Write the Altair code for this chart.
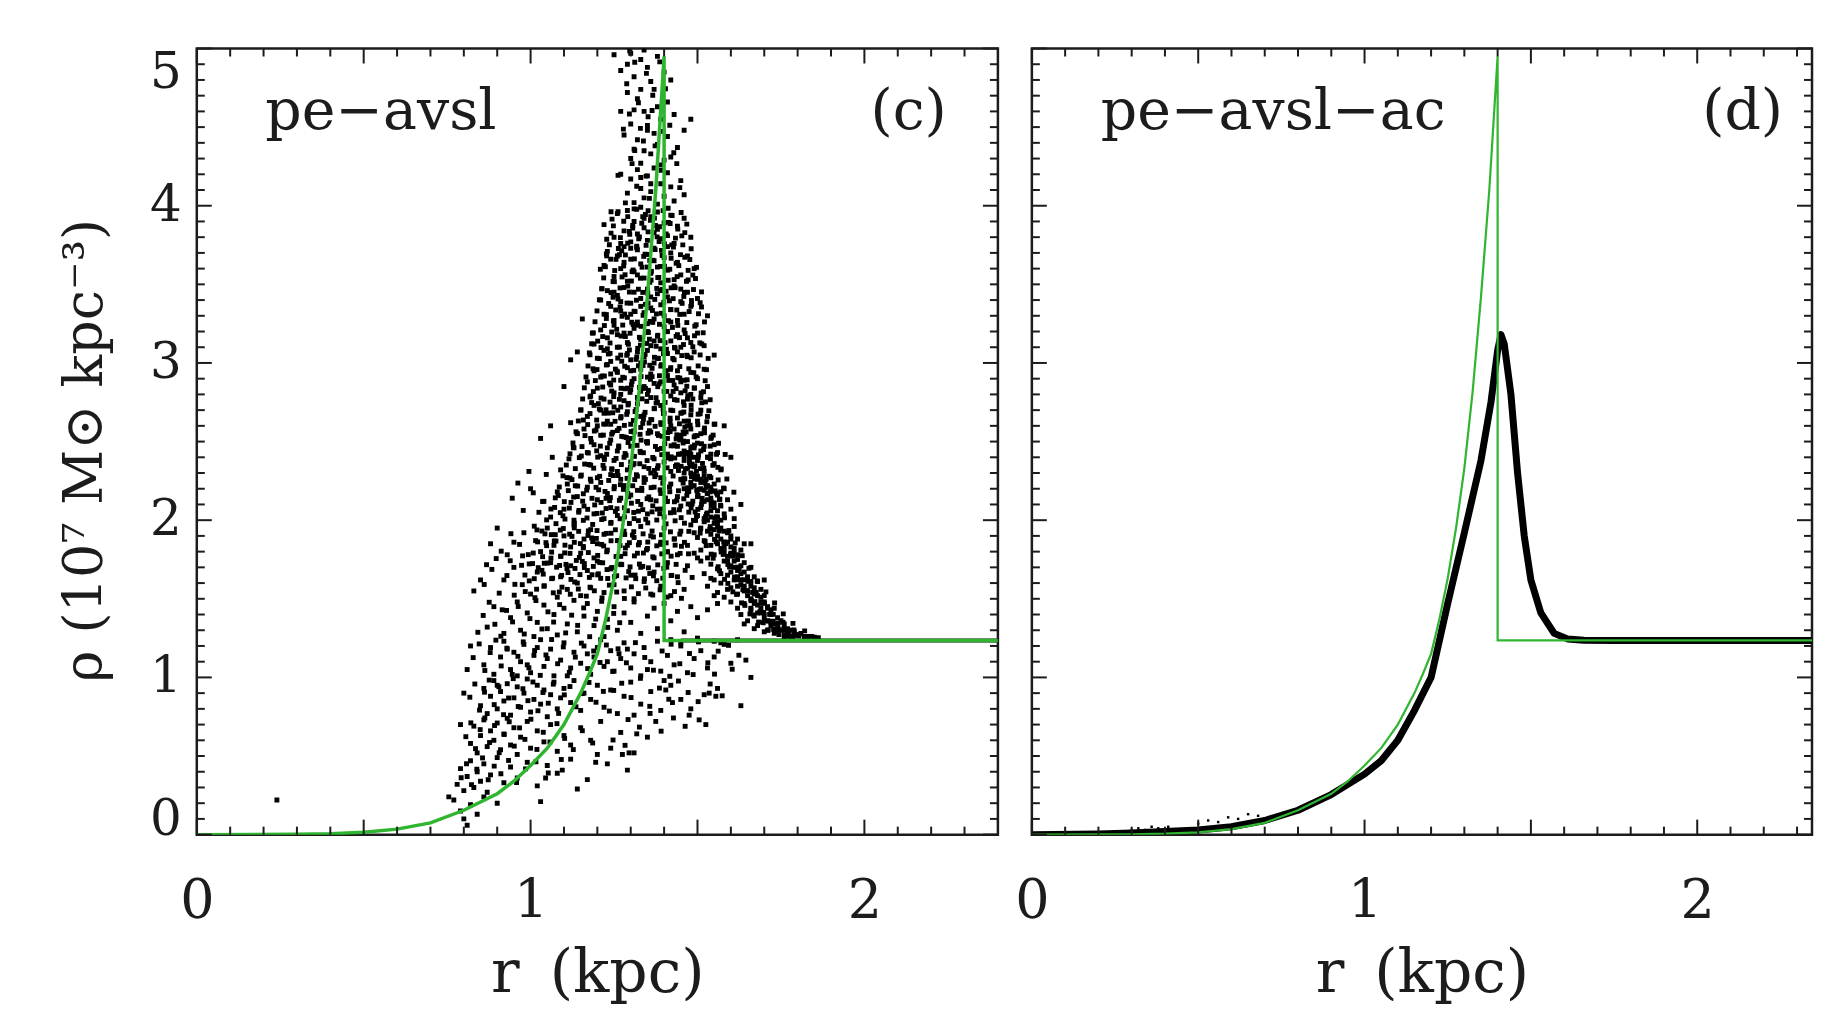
import altair as alt
import pandas as pd

FONT = "DejaVu Serif"
INK = "#1c1c1c"
GREEN = "#2fb52f"

# ---------------- axes ----------------
X_MAJOR = [0.0, 0.5, 1.0, 1.5, 2.0]
X_MINOR = [0.1, 0.2, 0.3, 0.4, 0.6, 0.7, 0.8, 0.9, 1.1, 1.2, 1.3, 1.4,
           1.6, 1.7, 1.8, 1.9, 2.1, 2.2, 2.3]
X_LABELS = [0, 1, 2]
Y_MAJOR = [0, 1, 2, 3, 4, 5]
Y_MINOR = [round(i * 0.1, 1) for i in range(1, 50) if i % 10 != 0]
Y_LABELS_MID = [1, 2, 3, 4]
Y_LABEL_BOTTOM = [0]
Y_LABEL_TOP = [5]

# ---------------- green model profile (both panels) ----------------
green_r = [0.0, 0.30, 0.40, 0.50, 0.60, 0.70, 0.80, 0.90, 0.95, 1.00, 1.05, 1.10,
           1.15, 1.175, 1.20, 1.225, 1.25, 1.275, 1.30, 1.325, 1.35, 1.375, 1.40,
           1.40, 2.40]
green_rho = [0.0, 0.002, 0.006, 0.015, 0.035, 0.075, 0.155, 0.26, 0.34, 0.44, 0.55, 0.70,
             0.90, 1.02, 1.15, 1.37, 1.63, 1.95, 2.33, 2.82, 3.42, 4.10, 4.95,
             1.235, 1.235]

# ---------------- panel (d): pe-avsl-ac profile ----------------
ac_r = [0.0, 0.20, 0.30, 0.40, 0.50, 0.60, 0.70, 0.80, 0.90, 1.00, 1.05, 1.10, 1.15,
        1.20, 1.25, 1.30, 1.35, 1.38, 1.40, 1.41, 1.42, 1.44, 1.46, 1.48, 1.50, 1.53,
        1.57, 1.61, 1.66, 1.75, 2.40]
ac_rho = [0.0, 0.004, 0.01, 0.02, 0.03, 0.05, 0.09, 0.155, 0.255, 0.385, 0.47, 0.60, 0.79,
          1.00, 1.47, 1.92, 2.38, 2.75, 3.08, 3.18, 3.12, 2.80, 2.30, 1.90, 1.62, 1.41,
          1.28, 1.245, 1.237, 1.235, 1.235]
ac_dots = [(0.30, 0.03), (0.32, 0.04), (0.34, 0.03), (0.36, 0.05), (0.38, 0.04),
           (0.41, 0.05), (0.50, 0.07), (0.53, 0.09), (0.56, 0.08), (0.59, 0.11),
           (0.62, 0.10), (0.65, 0.13), (0.68, 0.12)]

# ---------------- panel (c): pe-avsl particle cloud ----------------
cloud_top = [
    (1.30, 4.97), (1.33, 4.93), (1.35, 4.88), (1.38, 4.95), (1.31, 4.82), (1.36, 4.79),
    (1.40, 4.85), (1.42, 4.80), (1.34, 4.99), (1.29, 4.90), (1.25, 4.96), (1.27, 4.86),
    (1.29, 4.72), (1.32, 4.68), (1.34, 4.60), (1.37, 4.74), (1.39, 4.55), (1.41, 4.66),
    (1.43, 4.58), (1.30, 4.52), (1.35, 4.51), (1.33, 4.74), (1.38, 4.63), (1.31, 4.61),
    (1.48, 4.55), (1.27, 4.60),
    (1.28, 4.45), (1.30, 4.30), (1.32, 4.42), (1.33, 4.27), (1.35, 4.48), (1.36, 4.33),
    (1.38, 4.39), (1.39, 4.26), (1.41, 4.44), (1.42, 4.31), (1.44, 4.37), (1.46, 4.48),
    (1.31, 4.36), (1.34, 4.35), (1.37, 4.46), (1.40, 4.29),
    (1.27, 4.20), (1.29, 4.08), (1.30, 4.17), (1.31, 4.02), (1.32, 4.23), (1.33, 4.11),
    (1.34, 4.05), (1.35, 4.19), (1.36, 4.09), (1.37, 4.24), (1.38, 4.01), (1.39, 4.14),
    (1.40, 4.06), (1.41, 4.21), (1.42, 4.12), (1.43, 4.03), (1.45, 4.16), (1.46, 4.07),
    (1.33, 4.18), (1.36, 4.14),
    (1.22, 3.88), (1.25, 3.80), (1.26, 3.95), (1.28, 3.84), (1.29, 3.97), (1.30, 3.77),
    (1.31, 3.90), (1.32, 3.82), (1.33, 3.99), (1.34, 3.86), (1.35, 3.78), (1.36, 3.93),
    (1.37, 3.83), (1.38, 3.96), (1.39, 3.79), (1.40, 3.89), (1.41, 3.81), (1.42, 3.94),
    (1.43, 3.76), (1.44, 3.87), (1.46, 3.92), (1.48, 3.80), (1.27, 3.76), (1.34, 3.92),
    (1.38, 3.85), (1.31, 3.98),
    (1.22, 3.62), (1.23, 3.71), (1.25, 3.55), (1.26, 3.68), (1.27, 3.60), (1.28, 3.74),
    (1.29, 3.52), (1.30, 3.66), (1.31, 3.58), (1.32, 3.72), (1.33, 3.63), (1.34, 3.54),
    (1.35, 3.69), (1.36, 3.57), (1.37, 3.73), (1.38, 3.61), (1.39, 3.51), (1.40, 3.67),
    (1.41, 3.59), (1.42, 3.70), (1.43, 3.53), (1.44, 3.64), (1.45, 3.56), (1.47, 3.68),
    (1.49, 3.60), (1.28, 3.64), (1.32, 3.56), (1.35, 3.61), (1.37, 3.65), (1.30, 3.73),
    (1.41, 3.74), (1.24, 3.66),
    (1.312, 4.913), (1.347, 4.842), (1.288, 4.776), (1.366, 4.703), (1.404, 4.744),
    (1.323, 4.655), (1.296, 4.583), (1.352, 4.566), (1.417, 4.512), (1.278, 4.487),
    (1.338, 4.412), (1.373, 4.381), (1.429, 4.337), (1.304, 4.268), (1.391, 4.226),
    (1.262, 4.193), (1.447, 4.115), (1.318, 4.124), (1.356, 4.047), (1.284, 4.018),
    (1.412, 3.984), (1.241, 3.962), (1.336, 3.931), (1.374, 3.874), (1.296, 3.836),
    (1.453, 3.808), (1.228, 3.787), (1.318, 3.742), (1.392, 3.716), (1.266, 3.688),
    (1.357, 3.652), (1.436, 3.634), (1.209, 3.596), (1.304, 3.581), (1.381, 3.543),
    (1.472, 3.528), (1.251, 3.517), (1.343, 3.692), (1.418, 3.887), (1.329, 4.492),
    (1.387, 4.915), (1.297, 4.985), (1.364, 4.606), (1.244, 3.915), (1.462, 3.672),
    (1.283, 3.561), (1.326, 3.802), (1.401, 3.615), (1.352, 3.968), (1.312, 4.351),
    (1.438, 4.268), (1.273, 3.713), (1.385, 3.772), (1.227, 3.694), (1.486, 3.559),
    (1.346, 4.188), (1.397, 4.473), (1.306, 3.874), (1.361, 3.527), (1.423, 3.751),
]

cloud_mid = [
    (1.21, 3.40), (1.22, 3.31), (1.23, 3.46), (1.24, 3.36), (1.25, 3.27), (1.26, 3.43),
    (1.27, 3.33), (1.28, 3.48), (1.29, 3.29), (1.30, 3.38), (1.31, 3.45), (1.32, 3.26),
    (1.33, 3.41), (1.34, 3.32), (1.35, 3.47), (1.36, 3.35), (1.37, 3.28), (1.38, 3.44),
    (1.39, 3.37), (1.40, 3.30), (1.41, 3.42), (1.42, 3.34), (1.43, 3.49), (1.44, 3.27),
    (1.45, 3.39), (1.46, 3.31), (1.47, 3.45), (1.48, 3.36), (1.50, 3.41), (1.27, 3.39),
    (1.30, 3.31), (1.33, 3.36), (1.36, 3.42), (1.39, 3.46), (1.42, 3.26), (1.45, 3.47),
    (1.25, 3.45), (1.35, 3.25), (1.155, 3.28), (1.185, 3.19), (1.53, 3.30),
    (1.19, 3.12), (1.20, 3.03), (1.21, 3.21), (1.22, 3.08), (1.23, 3.16), (1.24, 3.01),
    (1.25, 3.24), (1.26, 3.10), (1.27, 3.05), (1.28, 3.19), (1.29, 3.13), (1.30, 3.02),
    (1.31, 3.22), (1.32, 3.07), (1.33, 3.15), (1.34, 3.04), (1.35, 3.20), (1.36, 3.11),
    (1.37, 3.00), (1.38, 3.17), (1.39, 3.09), (1.40, 3.23), (1.41, 3.06), (1.42, 3.14),
    (1.43, 3.02), (1.44, 3.18), (1.45, 3.10), (1.46, 3.21), (1.47, 3.04), (1.48, 3.13),
    (1.49, 3.07), (1.50, 3.19), (1.52, 3.11), (1.26, 3.18), (1.29, 3.06), (1.32, 3.24),
    (1.35, 3.08), (1.38, 3.03), (1.41, 3.20), (1.44, 3.07), (1.47, 3.16), (1.23, 3.09),
    (1.33, 3.00), (1.37, 3.14), (1.12, 3.02), (1.14, 3.07), (1.55, 3.05),
    (1.17, 2.88), (1.18, 2.79), (1.19, 2.95), (1.20, 2.84), (1.21, 2.91), (1.22, 2.77),
    (1.23, 2.99), (1.24, 2.86), (1.25, 2.81), (1.26, 2.94), (1.27, 2.89), (1.28, 2.76),
    (1.29, 2.97), (1.30, 2.83), (1.31, 2.90), (1.32, 2.78), (1.33, 2.96), (1.34, 2.85),
    (1.35, 2.80), (1.36, 2.93), (1.37, 2.87), (1.38, 2.75), (1.39, 2.98), (1.40, 2.82),
    (1.41, 2.92), (1.42, 2.79), (1.43, 2.86), (1.44, 2.95), (1.45, 2.81), (1.46, 2.89),
    (1.47, 2.77), (1.48, 2.94), (1.49, 2.84), (1.50, 2.90), (1.51, 2.78), (1.52, 2.96),
    (1.53, 2.85), (1.24, 2.93), (1.27, 2.80), (1.30, 2.95), (1.33, 2.82), (1.36, 2.78),
    (1.39, 2.88), (1.42, 2.97), (1.45, 2.88), (1.48, 2.80), (1.35, 2.91), (1.29, 2.84),
    (1.10, 2.85),
    (1.12, 2.62), (1.14, 2.55), (1.15, 2.70), (1.16, 2.58), (1.17, 2.66), (1.18, 2.52),
    (1.19, 2.73), (1.20, 2.60), (1.21, 2.54), (1.22, 2.68), (1.23, 2.63), (1.24, 2.51),
    (1.25, 2.72), (1.26, 2.57), (1.27, 2.65), (1.28, 2.53), (1.29, 2.69), (1.30, 2.61),
    (1.31, 2.56), (1.32, 2.74), (1.33, 2.59), (1.34, 2.67), (1.35, 2.50), (1.36, 2.64),
    (1.37, 2.71), (1.38, 2.55), (1.39, 2.62), (1.40, 2.68), (1.41, 2.52), (1.42, 2.70),
    (1.43, 2.58), (1.44, 2.65), (1.45, 2.54), (1.46, 2.73), (1.47, 2.60), (1.48, 2.67),
    (1.49, 2.53), (1.50, 2.63), (1.51, 2.70), (1.52, 2.57), (1.53, 2.66), (1.54, 2.52),
    (1.55, 2.61), (1.27, 2.72), (1.30, 2.52), (1.33, 2.66), (1.36, 2.56), (1.39, 2.73),
    (1.42, 2.60), (1.45, 2.68), (1.48, 2.58), (1.51, 2.55), (1.24, 2.61), (1.21, 2.70),
    (1.46, 2.63), (1.44, 2.47), (1.46, 2.44), (1.47, 2.50), (1.48, 2.42), (1.45, 2.52),
    (1.49, 2.46), (1.50, 2.49), (1.46, 2.55), (1.55, 2.48), (1.03, 2.52), (1.06, 2.60),
    (1.58, 2.60),
    (0.995, 2.31), (1.065, 2.40), (1.115, 2.39), (1.09, 2.32), (1.13, 2.46), (1.15, 2.28),
    (1.17, 2.43), (1.18, 2.35), (1.19, 2.48), (1.20, 2.27), (1.21, 2.41), (1.22, 2.33),
    (1.23, 2.46), (1.24, 2.29), (1.25, 2.38), (1.26, 2.44), (1.27, 2.26), (1.28, 2.40),
    (1.29, 2.32), (1.30, 2.47), (1.31, 2.36), (1.32, 2.28), (1.33, 2.43), (1.34, 2.34),
    (1.35, 2.49), (1.36, 2.30), (1.37, 2.39), (1.38, 2.45), (1.39, 2.27), (1.40, 2.37),
    (1.41, 2.42), (1.42, 2.31), (1.43, 2.48), (1.44, 2.35), (1.45, 2.26), (1.46, 2.41),
    (1.47, 2.33), (1.48, 2.46), (1.49, 2.29), (1.50, 2.38), (1.51, 2.44), (1.52, 2.31),
    (1.53, 2.40), (1.54, 2.27), (1.55, 2.36), (1.56, 2.43), (1.57, 2.32), (1.22, 2.40),
    (1.26, 2.31), (1.30, 2.37), (1.34, 2.27), (1.38, 2.33), (1.42, 2.39), (1.46, 2.30),
    (1.50, 2.28), (1.52, 2.47), (1.54, 2.42), (1.49, 2.40), (1.47, 2.43), (1.60, 2.40),
    (0.945, 2.14), (1.025, 2.05), (1.00, 2.20), (1.04, 2.12), (1.06, 2.02), (1.08, 2.18),
    (1.10, 2.07), (1.11, 2.23), (1.13, 2.00), (1.14, 2.15), (1.16, 2.09), (1.17, 2.21),
    (1.19, 2.04), (1.20, 2.13), (1.21, 2.24), (1.22, 2.01), (1.23, 2.17), (1.24, 2.08),
    (1.25, 2.20), (1.26, 2.03), (1.27, 2.14), (1.28, 2.22), (1.29, 2.06), (1.30, 2.16),
    (1.31, 2.01), (1.32, 2.19), (1.33, 2.10), (1.34, 2.24), (1.35, 2.04), (1.36, 2.13),
    (1.37, 2.21), (1.38, 2.07), (1.39, 2.17), (1.40, 2.02), (1.41, 2.12), (1.42, 2.23),
    (1.43, 2.05), (1.44, 2.15), (1.45, 2.09), (1.46, 2.20), (1.47, 2.18), (1.48, 2.10),
    (1.49, 2.22), (1.50, 2.03), (1.50, 2.15), (1.51, 2.08), (1.52, 2.19), (1.52, 2.01),
    (1.53, 2.13), (1.54, 2.06), (1.54, 2.21), (1.55, 2.11), (1.56, 2.02), (1.56, 2.16),
    (1.57, 2.09), (1.58, 2.20), (1.58, 2.04), (1.59, 2.13), (1.60, 2.07), (1.61, 2.01),
    (1.48, 2.24), (1.51, 2.24), (1.53, 2.00), (1.55, 2.23), (1.57, 2.18), (1.63, 2.10),
]

core_extra = [
    (1.214, 3.472), (1.247, 3.418), (1.268, 3.356), (1.291, 3.489), (1.313, 3.327),
    (1.336, 3.449), (1.352, 3.381), (1.377, 3.312), (1.394, 3.468), (1.416, 3.395),
    (1.438, 3.337), (1.459, 3.423), (1.482, 3.371), (1.227, 3.283), (1.258, 3.214),
    (1.284, 3.168), (1.307, 3.245), (1.329, 3.113), (1.348, 3.196), (1.366, 3.258),
    (1.388, 3.142), (1.407, 3.087), (1.425, 3.226), (1.446, 3.161), (1.468, 3.049),
    (1.492, 3.234), (1.201, 3.139), (1.238, 3.061), (1.273, 3.011), (1.296, 3.083),
    (1.318, 3.038), (1.341, 3.007), (1.383, 3.029), (1.433, 3.094), (1.507, 3.128),
    (1.512, 3.356), (1.176, 3.064), (1.356, 3.151), (1.274, 3.297), (1.421, 3.478),
    (1.187, 2.963), (1.214, 2.917), (1.236, 2.872), (1.259, 2.948), (1.281, 2.905),
    (1.302, 2.861), (1.323, 2.982), (1.344, 2.838), (1.364, 2.913), (1.385, 2.867),
    (1.406, 2.951), (1.427, 2.819), (1.447, 2.904), (1.468, 2.852), (1.489, 2.938),
    (1.511, 2.809), (1.178, 2.784), (1.203, 2.741), (1.226, 2.702), (1.249, 2.786),
    (1.271, 2.659), (1.292, 2.733), (1.313, 2.691), (1.334, 2.772), (1.355, 2.618),
    (1.376, 2.745), (1.397, 2.706), (1.418, 2.649), (1.439, 2.763), (1.459, 2.688),
    (1.481, 2.731), (1.502, 2.674), (1.524, 2.752), (1.158, 2.637), (1.196, 2.573),
    (1.219, 2.611), (1.243, 2.547), (1.265, 2.584), (1.287, 2.526), (1.309, 2.568),
    (1.331, 2.509), (1.352, 2.553), (1.373, 2.597), (1.394, 2.534), (1.415, 2.578),
    (1.436, 2.517), (1.457, 2.561), (1.478, 2.604), (1.499, 2.538), (1.521, 2.586),
    (1.542, 2.529), (1.139, 2.552), (1.283, 2.836), (1.357, 2.985), (1.426, 2.889),
    (1.246, 2.683), (1.471, 2.792), (1.338, 2.642),
    (1.128, 2.463), (1.152, 2.408), (1.175, 2.354), (1.198, 2.441), (1.221, 2.386),
    (1.243, 2.327), (1.264, 2.472), (1.286, 2.413), (1.307, 2.352), (1.328, 2.438),
    (1.349, 2.379), (1.371, 2.316), (1.392, 2.456), (1.413, 2.397), (1.434, 2.342),
    (1.455, 2.424), (1.476, 2.367), (1.497, 2.311), (1.518, 2.449), (1.539, 2.391),
    (1.561, 2.336), (1.583, 2.418), (1.109, 2.271), (1.134, 2.219), (1.158, 2.168),
    (1.181, 2.247), (1.204, 2.193), (1.226, 2.139), (1.248, 2.284), (1.269, 2.226),
    (1.291, 2.171), (1.312, 2.258), (1.333, 2.203), (1.354, 2.148), (1.375, 2.289),
    (1.396, 2.235), (1.417, 2.181), (1.438, 2.126), (1.459, 2.264), (1.481, 2.211),
    (1.502, 2.157), (1.523, 2.238), (1.544, 2.185), (1.566, 2.131), (1.588, 2.262),
    (1.609, 2.178), (1.072, 2.081), (1.097, 2.028), (1.121, 2.113), (1.145, 2.062),
    (1.169, 2.014), (1.192, 2.097), (1.215, 2.046), (1.237, 2.124), (1.259, 2.073),
    (1.281, 2.021), (1.302, 2.108), (1.323, 2.057), (1.345, 2.006), (1.366, 2.091),
    (1.387, 2.041), (1.408, 2.118), (1.429, 2.067), (1.451, 2.016), (1.472, 2.103),
    (1.493, 2.052),
    (1.011, 1.962), (1.043, 1.913), (1.071, 1.868), (1.098, 1.947), (1.124, 1.897),
    (1.149, 1.851), (1.173, 1.932), (1.197, 1.884), (1.219, 1.836), (1.241, 1.917),
    (1.263, 1.871), (1.284, 1.823), (1.305, 1.905), (1.326, 1.858), (1.347, 1.811),
    (1.368, 1.893), (1.389, 1.846), (1.409, 1.798), (1.431, 1.881), (1.452, 1.834),
    (1.473, 1.786), (0.976, 1.773), (1.006, 1.724), (1.034, 1.681), (1.061, 1.759),
    (1.087, 1.712), (1.112, 1.667), (1.137, 1.744), (1.161, 1.699), (1.184, 1.653),
    (1.207, 1.731), (1.229, 1.686), (1.251, 1.641), (1.273, 1.718), (1.294, 1.673),
    (1.315, 1.628), (1.336, 1.706), (1.357, 1.661), (1.378, 1.615), (1.399, 1.693),
    (1.421, 1.648), (1.442, 1.603), (1.463, 1.681), (1.484, 1.636), (0.953, 1.592),
    (0.984, 1.546), (1.013, 1.507), (1.041, 1.583), (1.068, 1.538), (1.094, 1.574),
    (1.119, 1.529), (1.143, 1.562), (1.167, 1.517), (1.191, 1.551), (1.214, 1.506),
    (1.236, 1.587), (1.258, 1.543), (1.281, 1.502), (1.302, 1.576), (1.323, 1.533),
    (1.345, 1.569), (1.366, 1.524), (1.388, 1.557), (1.409, 1.511), (1.431, 1.546),
    (1.452, 1.503),
]

core_dense = [
    (1.262, 3.962), (1.291, 3.931), (1.318, 3.978), (1.344, 3.944), (1.371, 3.921),
    (1.397, 3.969), (1.424, 3.938), (1.451, 3.957),
    (1.248, 3.872), (1.279, 3.901), (1.306, 3.858), (1.333, 3.889), (1.359, 3.907),
    (1.386, 3.866), (1.413, 3.894), (1.441, 3.851), (1.468, 3.883),
    (1.241, 3.826), (1.269, 3.797), (1.297, 3.818), (1.324, 3.789), (1.352, 3.834),
    (1.379, 3.802), (1.406, 3.821), (1.434, 3.794), (1.462, 3.829),
    (1.236, 3.752), (1.263, 3.728), (1.291, 3.761), (1.318, 3.733), (1.346, 3.748),
    (1.373, 3.721), (1.401, 3.757), (1.428, 3.737), (1.456, 3.751), (1.481, 3.726),
    (1.228, 3.681), (1.256, 3.659), (1.284, 3.687), (1.311, 3.662), (1.339, 3.678),
    (1.366, 3.653), (1.394, 3.684), (1.421, 3.666), (1.449, 3.689), (1.477, 3.658),
    (1.224, 3.612), (1.252, 3.588), (1.279, 3.617), (1.307, 3.591), (1.334, 3.609),
    (1.362, 3.583), (1.389, 3.614), (1.417, 3.596), (1.444, 3.619), (1.472, 3.589),
    (1.497, 3.608),
    (1.219, 3.541), (1.247, 3.518), (1.274, 3.547), (1.302, 3.521), (1.329, 3.539),
    (1.357, 3.513), (1.384, 3.544), (1.412, 3.526), (1.439, 3.549), (1.467, 3.519),
    (1.494, 3.537),
    (1.213, 3.472), (1.241, 3.448), (1.268, 3.477), (1.296, 3.451), (1.323, 3.469),
    (1.351, 3.443), (1.378, 3.474), (1.406, 3.456), (1.433, 3.479), (1.461, 3.449),
    (1.488, 3.467), (1.512, 3.452),
    (1.206, 3.402), (1.234, 3.378), (1.262, 3.407), (1.289, 3.381), (1.317, 3.399),
    (1.344, 3.373), (1.372, 3.404), (1.399, 3.386), (1.427, 3.409), (1.454, 3.379),
    (1.482, 3.397), (1.508, 3.383),
    (1.199, 3.331), (1.227, 3.308), (1.255, 3.337), (1.282, 3.311), (1.310, 3.329),
    (1.337, 3.303), (1.365, 3.334), (1.392, 3.316), (1.420, 3.339), (1.447, 3.309),
    (1.475, 3.327), (1.503, 3.313),
    (1.193, 3.262), (1.221, 3.238), (1.248, 3.267), (1.276, 3.241), (1.303, 3.259),
    (1.331, 3.233), (1.358, 3.264), (1.386, 3.246), (1.413, 3.269), (1.441, 3.239),
    (1.468, 3.257), (1.496, 3.243), (1.521, 3.261),
    (1.188, 3.191), (1.216, 3.168), (1.243, 3.197), (1.271, 3.171), (1.298, 3.189),
    (1.326, 3.163), (1.353, 3.194), (1.381, 3.176), (1.408, 3.199), (1.436, 3.169),
    (1.463, 3.187), (1.491, 3.173), (1.517, 3.192),
    (1.183, 3.122), (1.211, 3.098), (1.238, 3.127), (1.266, 3.101), (1.293, 3.119),
    (1.321, 3.093), (1.348, 3.124), (1.376, 3.106), (1.403, 3.129), (1.431, 3.099),
    (1.458, 3.117), (1.486, 3.103), (1.513, 3.121),
    (1.178, 3.052), (1.206, 3.028), (1.233, 3.057), (1.261, 3.031), (1.288, 3.049),
    (1.316, 3.023), (1.343, 3.054), (1.371, 3.036), (1.398, 3.059), (1.426, 3.029),
    (1.453, 3.047), (1.481, 3.033), (1.508, 3.051), (1.532, 3.029),
    (1.172, 2.981), (1.199, 2.958), (1.227, 2.987), (1.254, 2.961), (1.282, 2.979),
    (1.309, 2.953), (1.337, 2.984), (1.364, 2.966), (1.392, 2.989), (1.419, 2.959),
    (1.447, 2.977), (1.474, 2.963), (1.502, 2.981), (1.527, 2.957),
    (1.166, 2.911), (1.194, 2.888), (1.221, 2.917), (1.249, 2.891), (1.276, 2.909),
    (1.304, 2.883), (1.331, 2.914), (1.359, 2.896), (1.386, 2.919), (1.414, 2.889),
    (1.441, 2.907), (1.469, 2.893), (1.496, 2.911), (1.523, 2.887),
    (1.161, 2.842), (1.188, 2.818), (1.216, 2.847), (1.243, 2.821), (1.271, 2.839),
    (1.298, 2.813), (1.326, 2.844), (1.353, 2.826), (1.381, 2.849), (1.408, 2.819),
    (1.436, 2.837), (1.463, 2.823), (1.491, 2.841), (1.518, 2.817),
    (1.156, 2.771), (1.183, 2.748), (1.211, 2.777), (1.238, 2.751), (1.266, 2.769),
    (1.293, 2.743), (1.321, 2.774), (1.348, 2.756), (1.376, 2.779), (1.403, 2.749),
    (1.431, 2.767), (1.458, 2.753), (1.486, 2.771), (1.513, 2.747), (1.538, 2.766),
    (1.151, 2.702), (1.178, 2.678), (1.206, 2.707), (1.233, 2.681), (1.261, 2.699),
    (1.288, 2.673), (1.316, 2.704), (1.343, 2.686), (1.371, 2.709), (1.398, 2.679),
    (1.426, 2.697), (1.453, 2.683), (1.481, 2.701), (1.508, 2.677), (1.534, 2.696),
    (1.143, 2.631), (1.171, 2.608), (1.198, 2.637), (1.226, 2.611), (1.253, 2.629),
    (1.281, 2.603), (1.308, 2.634), (1.336, 2.616), (1.363, 2.639), (1.391, 2.609),
    (1.418, 2.627), (1.446, 2.613), (1.473, 2.631), (1.501, 2.607), (1.528, 2.626),
    (1.552, 2.611),
    (1.136, 2.562), (1.163, 2.538), (1.191, 2.567), (1.218, 2.541), (1.246, 2.559),
    (1.273, 2.533), (1.301, 2.564), (1.328, 2.546), (1.356, 2.569), (1.383, 2.539),
    (1.411, 2.557), (1.438, 2.543), (1.466, 2.561), (1.493, 2.537), (1.521, 2.556),
    (1.547, 2.541),
    (1.127, 2.491), (1.154, 2.468), (1.182, 2.497), (1.209, 2.471), (1.237, 2.489),
    (1.264, 2.463), (1.292, 2.494), (1.319, 2.476), (1.347, 2.499), (1.374, 2.469),
    (1.402, 2.487), (1.429, 2.473), (1.457, 2.491), (1.484, 2.467), (1.512, 2.486),
    (1.538, 2.471), (1.563, 2.489),
    (1.118, 2.422), (1.146, 2.398), (1.173, 2.427), (1.201, 2.401), (1.228, 2.419),
    (1.256, 2.393), (1.283, 2.424), (1.311, 2.406), (1.338, 2.429), (1.366, 2.399),
    (1.393, 2.417), (1.421, 2.403), (1.448, 2.421), (1.476, 2.397), (1.503, 2.416),
    (1.531, 2.401), (1.557, 2.419),
    (1.107, 2.351), (1.134, 2.328), (1.162, 2.357), (1.189, 2.331), (1.217, 2.349),
    (1.244, 2.323), (1.272, 2.354), (1.299, 2.336), (1.327, 2.359), (1.354, 2.329),
    (1.382, 2.347), (1.409, 2.333), (1.437, 2.351), (1.464, 2.327), (1.492, 2.346),
    (1.519, 2.331), (1.546, 2.349), (1.571, 2.326),
    (1.097, 2.282), (1.124, 2.258), (1.152, 2.287), (1.179, 2.261), (1.207, 2.279),
    (1.234, 2.253), (1.262, 2.284), (1.289, 2.266), (1.317, 2.289), (1.344, 2.259),
    (1.372, 2.277), (1.399, 2.263), (1.427, 2.281), (1.454, 2.257), (1.482, 2.276),
    (1.509, 2.261), (1.536, 2.279), (1.562, 2.256),
    (1.086, 2.211), (1.113, 2.188), (1.141, 2.217), (1.168, 2.191), (1.196, 2.209),
    (1.223, 2.183), (1.251, 2.214), (1.278, 2.196), (1.306, 2.219), (1.333, 2.189),
    (1.361, 2.207), (1.388, 2.193), (1.416, 2.211), (1.443, 2.187), (1.471, 2.206),
    (1.498, 2.191), (1.526, 2.209), (1.553, 2.186), (1.578, 2.204),
    (1.074, 2.142), (1.101, 2.118), (1.129, 2.147), (1.156, 2.121), (1.184, 2.139),
    (1.211, 2.113), (1.239, 2.144), (1.266, 2.126), (1.294, 2.149), (1.321, 2.119),
    (1.349, 2.137), (1.376, 2.123), (1.404, 2.141), (1.431, 2.117), (1.459, 2.136),
    (1.486, 2.121), (1.514, 2.139), (1.541, 2.116), (1.567, 2.134),
    (1.061, 2.071), (1.089, 2.048), (1.116, 2.077), (1.144, 2.051), (1.171, 2.069),
    (1.199, 2.043), (1.226, 2.074), (1.254, 2.056), (1.281, 2.079), (1.309, 2.049),
    (1.336, 2.067), (1.364, 2.053), (1.391, 2.071), (1.419, 2.047), (1.446, 2.066),
    (1.474, 2.051), (1.501, 2.069), (1.529, 2.046),
    (1.048, 2.002), (1.076, 1.978), (1.103, 2.007), (1.131, 1.981), (1.158, 1.999),
    (1.186, 1.973), (1.213, 2.004), (1.241, 1.986), (1.268, 2.009), (1.296, 1.979),
    (1.323, 1.997), (1.351, 1.983), (1.378, 2.001), (1.406, 1.977), (1.433, 1.996),
    (1.461, 1.981), (1.488, 1.999),
    (1.034, 1.931), (1.062, 1.908), (1.089, 1.937), (1.117, 1.911), (1.144, 1.929),
    (1.172, 1.903), (1.199, 1.934), (1.227, 1.916), (1.254, 1.939), (1.282, 1.909),
    (1.309, 1.927), (1.337, 1.913), (1.364, 1.931), (1.392, 1.907), (1.419, 1.926),
    (1.447, 1.911), (1.474, 1.929),
    (1.021, 1.862), (1.048, 1.838), (1.076, 1.867), (1.103, 1.841), (1.131, 1.859),
    (1.158, 1.833), (1.186, 1.864), (1.213, 1.846), (1.241, 1.869), (1.268, 1.839),
    (1.296, 1.857), (1.323, 1.843), (1.351, 1.861), (1.378, 1.837), (1.406, 1.856),
    (1.433, 1.841), (1.461, 1.859),
    (1.008, 1.791), (1.036, 1.768), (1.063, 1.797), (1.091, 1.771), (1.118, 1.789),
    (1.146, 1.763), (1.173, 1.794), (1.201, 1.776), (1.228, 1.799), (1.256, 1.769),
    (1.283, 1.787), (1.311, 1.773), (1.338, 1.791), (1.366, 1.767), (1.393, 1.786),
    (1.421, 1.771), (1.448, 1.789),
    (0.996, 1.722), (1.023, 1.698), (1.051, 1.727), (1.078, 1.701), (1.106, 1.719),
    (1.133, 1.693), (1.161, 1.724), (1.188, 1.706), (1.216, 1.729), (1.243, 1.699),
    (1.271, 1.717), (1.298, 1.703), (1.326, 1.721), (1.353, 1.697), (1.381, 1.716),
    (1.408, 1.701), (1.436, 1.719),
    (0.983, 1.651), (1.011, 1.628), (1.038, 1.657), (1.066, 1.631), (1.093, 1.649),
    (1.121, 1.623), (1.148, 1.654), (1.176, 1.636), (1.203, 1.659), (1.231, 1.629),
    (1.258, 1.647), (1.286, 1.633), (1.313, 1.651), (1.341, 1.627), (1.368, 1.646),
    (1.396, 1.631), (1.423, 1.649),
]

cloud_low = [
    (0.95, 1.86), (1.015, 1.87), (0.93, 1.78), (0.98, 1.92), (1.03, 1.80), (1.05, 1.95),
    (1.07, 1.84), (1.09, 1.77), (1.10, 1.90), (1.12, 1.83), (1.13, 1.97), (1.15, 1.79),
    (1.16, 1.88), (1.18, 1.94), (1.19, 1.76), (1.20, 1.85), (1.22, 1.91), (1.23, 1.81),
    (1.24, 1.98), (1.26, 1.87), (1.27, 1.77), (1.28, 1.93), (1.29, 1.84), (1.31, 1.89),
    (1.32, 1.79), (1.33, 1.96), (1.35, 1.82), (1.36, 1.90), (1.37, 1.76), (1.39, 1.86),
    (1.40, 1.95), (1.41, 1.80), (1.43, 1.88), (1.44, 1.78), (1.45, 1.93), (0.88, 1.85),
    (0.90, 1.95), (1.66, 1.85),
    (1.47, 1.84), (1.48, 1.97), (1.49, 1.79), (1.50, 1.89), (1.51, 1.95), (1.51, 1.81),
    (1.52, 1.87), (1.53, 1.76), (1.53, 1.93), (1.54, 1.84), (1.55, 1.98), (1.55, 1.78),
    (1.56, 1.90), (1.57, 1.82), (1.57, 1.95), (1.58, 1.86), (1.59, 1.77), (1.59, 1.92),
    (1.60, 1.83), (1.61, 1.96), (1.61, 1.79), (1.62, 1.88), (1.63, 1.81), (1.64, 1.85),
    (1.52, 1.99), (1.54, 1.91), (1.56, 1.85), (1.58, 1.80), (1.60, 1.90), (1.62, 1.78),
    (1.50, 1.76), (1.49, 1.92), (1.56, 1.96),
    (0.92, 1.62), (0.975, 1.59), (0.95, 1.70), (1.00, 1.53), (1.02, 1.67), (1.04, 1.58),
    (1.06, 1.73), (1.08, 1.51), (1.09, 1.64), (1.11, 1.56), (1.12, 1.71), (1.14, 1.60),
    (1.15, 1.52), (1.17, 1.68), (1.18, 1.57), (1.20, 1.74), (1.21, 1.63), (1.22, 1.54),
    (1.24, 1.69), (1.25, 1.59), (1.27, 1.72), (1.28, 1.55), (1.30, 1.65), (1.31, 1.50),
    (1.33, 1.70), (1.34, 1.61), (1.36, 1.53), (1.37, 1.67), (1.39, 1.58), (1.41, 1.73),
    (1.42, 1.52), (1.44, 1.64), (1.46, 1.56), (1.47, 1.71), (0.83, 1.55), (0.85, 1.62),
    (1.70, 1.62),
    (1.52, 1.66), (1.53, 1.58), (1.54, 1.72), (1.55, 1.62), (1.56, 1.54), (1.56, 1.69),
    (1.57, 1.60), (1.58, 1.74), (1.58, 1.51), (1.59, 1.65), (1.60, 1.57), (1.60, 1.71),
    (1.61, 1.62), (1.62, 1.53), (1.62, 1.68), (1.63, 1.59), (1.64, 1.73), (1.64, 1.55),
    (1.65, 1.64), (1.66, 1.58), (1.66, 1.70), (1.67, 1.53), (1.68, 1.61), (1.69, 1.56),
    (1.55, 1.52), (1.57, 1.66), (1.59, 1.56), (1.61, 1.74), (1.63, 1.66), (1.65, 1.52),
    (1.54, 1.63), (1.60, 1.67), (1.67, 1.64), (1.70, 1.52), (1.51, 1.74),
    (0.87, 1.32), (0.89, 1.45), (0.915, 1.43), (0.92, 1.28), (0.94, 1.38), (0.96, 1.48),
    (0.97, 1.30), (0.99, 1.41), (1.01, 1.26), (1.02, 1.35), (1.04, 1.46), (1.05, 1.31),
    (1.07, 1.40), (1.08, 1.27), (1.10, 1.44), (1.11, 1.34), (1.13, 1.49), (1.14, 1.29),
    (1.16, 1.39), (1.17, 1.47), (1.19, 1.33), (1.20, 1.42), (1.22, 1.26), (1.23, 1.37),
    (1.25, 1.45), (1.26, 1.30), (1.28, 1.41), (1.30, 1.35), (1.31, 1.48), (1.33, 1.28),
    (1.35, 1.39), (1.37, 1.44), (1.38, 1.31), (1.40, 1.47), (1.42, 1.36), (1.44, 1.42),
    (1.46, 1.29), (1.48, 1.45), (1.50, 1.38), (1.53, 1.43), (1.56, 1.47),
    (1.60, 1.48), (1.62, 1.44), (1.63, 1.40), (1.64, 1.47), (1.65, 1.36), (1.66, 1.43),
    (1.67, 1.39), (1.68, 1.46), (1.68, 1.33), (1.69, 1.41), (1.70, 1.37), (1.71, 1.30),
    (1.71, 1.44), (1.72, 1.35), (1.73, 1.28), (1.74, 1.33), (1.75, 1.30), (1.76, 1.27),
    (1.77, 1.31), (1.78, 1.26), (1.80, 1.27), (1.82, 1.26), (1.66, 1.49), (1.69, 1.48),
    (1.72, 1.40), (1.74, 1.38), (1.64, 1.34), (1.70, 1.29), (1.67, 1.31), (1.76, 1.34),
    (1.79, 1.29), (1.85, 1.255), (1.73, 1.44),
    (1.42, 1.24), (1.45, 1.22), (1.50, 1.25), (1.55, 1.23), (1.58, 1.21), (1.62, 1.24),
    (0.86, 1.08), (0.88, 1.19), (0.89, 1.02), (0.91, 1.13), (0.92, 1.23), (0.94, 1.05),
    (0.95, 1.16), (0.97, 1.10), (0.98, 1.21), (1.00, 1.03), (1.01, 1.14), (1.03, 1.24),
    (1.04, 1.07), (1.06, 1.18), (1.07, 1.01), (1.09, 1.11), (1.10, 1.22), (1.12, 1.06),
    (1.13, 1.16), (1.15, 1.09), (1.16, 1.20), (1.18, 1.02), (1.19, 1.13), (1.21, 1.24),
    (1.22, 1.07), (1.24, 1.17), (1.25, 1.04), (1.27, 1.12), (1.28, 1.22), (1.30, 1.06),
    (1.31, 1.15), (1.33, 1.01), (1.34, 1.19), (1.36, 1.10), (1.38, 1.23), (1.39, 1.04),
    (1.41, 1.14), (1.43, 1.08), (1.45, 1.20), (1.47, 1.03), (1.49, 1.12), (1.51, 1.17),
    (1.53, 1.06), (1.55, 1.13), (1.57, 1.22), (1.60, 1.09), (1.645, 1.11), (0.93, 1.18),
    (0.99, 1.08), (1.05, 1.12), (1.11, 1.01), (1.17, 1.15), (1.23, 1.10), (1.29, 1.18),
    (1.35, 1.05), (1.20, 1.19), (1.02, 1.19), (0.96, 1.01), (0.81, 1.05), (0.82, 1.20),
    (1.66, 1.00),
    (0.85, 0.82), (0.86, 0.93), (0.87, 0.77), (0.88, 0.88), (0.89, 0.98), (0.90, 0.80),
    (0.91, 0.91), (0.92, 0.85), (0.93, 0.96), (0.94, 0.76), (0.95, 0.87), (0.96, 0.94),
    (0.97, 0.81), (0.98, 0.90), (0.99, 0.99), (1.00, 0.78), (1.01, 0.86), (1.02, 0.95),
    (1.03, 0.83), (1.04, 0.92), (1.05, 0.75), (1.06, 0.89), (1.07, 0.97), (1.08, 0.80),
    (1.09, 0.87), (1.10, 0.93), (1.12, 0.84), (1.13, 0.98), (1.15, 0.79), (1.16, 0.90),
    (1.18, 0.86), (1.20, 0.95), (1.22, 0.81), (1.24, 0.92), (1.26, 0.77), (1.28, 0.88),
    (1.30, 0.97), (1.33, 0.83), (1.36, 0.91), (1.39, 0.79), (1.42, 0.95), (1.45, 0.86),
    (1.48, 0.80), (1.52, 0.89), (1.56, 0.93), (1.40, 0.98), (1.31, 0.76), (0.90, 0.95),
    (1.405, 0.92), (1.535, 0.90), (1.555, 0.88), (1.425, 0.84), (0.80, 0.90), (1.63, 0.82),
    (0.82, 0.58), (0.83, 0.69), (0.84, 0.52), (0.85, 0.63), (0.86, 0.73), (0.87, 0.56),
    (0.88, 0.66), (0.89, 0.60), (0.90, 0.71), (0.91, 0.54), (0.92, 0.64), (0.93, 0.74),
    (0.94, 0.57), (0.95, 0.68), (0.96, 0.51), (0.97, 0.62), (0.99, 0.72), (1.00, 0.55),
    (1.02, 0.66), (1.04, 0.59), (1.06, 0.70), (1.08, 0.53), (1.10, 0.63), (1.12, 0.57),
    (1.15, 0.68), (1.18, 0.60), (1.21, 0.72), (1.24, 0.55), (1.27, 0.65), (1.375, 0.72),
    (1.475, 0.76), (1.505, 0.73), (1.525, 0.70), (1.35, 0.62), (1.31, 0.52), (1.20, 0.51),
    (0.79, 0.70),
    (0.78, 0.32), (0.79, 0.42), (0.80, 0.28), (0.81, 0.37), (0.82, 0.47), (0.83, 0.30),
    (0.84, 0.40), (0.85, 0.34), (0.86, 0.45), (0.87, 0.27), (0.88, 0.38), (0.90, 0.49),
    (0.92, 0.33), (0.94, 0.43), (0.96, 0.36), (0.99, 0.46), (1.02, 0.31), (1.05, 0.44),
    (1.08, 0.39), (1.12, 0.48), (1.17, 0.35), (1.23, 0.45), (1.29, 0.41), (1.14, 0.29),
    (1.275, 0.51), (1.295, 0.52), (1.195, 0.46), (1.095, 0.41), (1.045, 0.36),
    (0.77, 0.22), (0.79, 0.15), (0.80, 0.10), (0.82, 0.19), (0.84, 0.13), (0.86, 0.24),
    (0.90, 0.20), (1.03, 0.21), (0.24, 0.22), (0.755, 0.24), (0.81, 0.06),
]

lobe_extra = [
    (0.962, 2.236), (1.008, 2.174), (1.047, 2.291), (1.083, 2.157), (0.978, 2.062),
    (1.036, 2.119), (1.118, 2.268),
    (0.912, 1.803), (0.941, 1.914), (0.967, 1.846), (0.993, 1.781), (1.019, 1.938),
    (1.046, 1.857), (1.074, 1.908), (1.102, 1.792), (1.131, 1.951), (1.158, 1.824),
    (1.183, 1.887), (0.897, 1.756),
    (0.861, 1.591), (0.884, 1.687), (0.906, 1.536), (0.929, 1.648), (0.951, 1.523),
    (0.973, 1.713), (0.996, 1.614), (1.018, 1.561), (1.041, 1.726), (1.063, 1.628),
    (1.086, 1.543), (1.109, 1.692), (1.132, 1.607), (1.155, 1.738), (1.178, 1.574),
    (1.201, 1.652), (0.868, 1.717), (0.939, 1.742),
    (0.842, 1.287), (0.858, 1.394), (0.876, 1.478), (0.893, 1.338), (0.911, 1.262),
    (0.928, 1.426), (0.946, 1.353), (0.963, 1.451), (0.981, 1.276), (0.998, 1.374),
    (1.016, 1.489), (1.034, 1.308), (1.052, 1.417), (1.069, 1.352), (1.087, 1.463),
    (1.105, 1.283), (1.123, 1.396), (1.141, 1.331), (1.159, 1.442), (1.177, 1.259),
    (1.195, 1.371), (1.213, 1.484), (1.231, 1.318), (1.249, 1.407), (1.267, 1.348),
    (0.828, 1.126), (0.846, 1.213), (0.863, 1.044), (0.879, 1.158), (0.896, 1.237),
    (0.912, 1.073), (0.929, 1.186), (0.945, 1.019), (0.962, 1.134), (0.978, 1.226),
    (0.995, 1.061), (1.012, 1.171), (1.029, 1.013), (1.046, 1.143), (1.063, 1.241),
    (1.081, 1.087), (1.098, 1.194), (1.116, 1.032), (1.134, 1.129), (1.152, 1.218),
    (1.171, 1.056), (1.189, 1.168), (1.208, 1.095), (1.227, 1.206), (1.246, 1.038),
    (1.265, 1.151),
    (0.818, 0.874), (0.833, 0.958), (0.847, 0.792), (0.862, 0.906), (0.876, 0.983),
    (0.891, 0.827), (0.905, 0.941), (0.919, 0.763), (0.934, 0.869), (0.948, 0.992),
    (0.963, 0.815), (0.977, 0.928), (0.992, 0.852), (1.007, 0.971), (1.022, 0.788),
    (1.037, 0.904), (1.053, 0.836), (1.068, 0.957), (1.084, 0.771), (1.101, 0.889),
    (1.118, 0.942), (1.136, 0.813), (1.155, 0.897), (1.175, 0.968), (1.196, 0.842),
    (1.218, 0.911),
    (0.806, 0.623), (0.821, 0.711), (0.835, 0.547), (0.849, 0.668), (0.863, 0.742),
    (0.877, 0.586), (0.892, 0.694), (0.906, 0.521), (0.921, 0.637), (0.936, 0.718),
    (0.951, 0.563), (0.967, 0.679), (0.983, 0.606), (1.001, 0.734), (1.019, 0.542),
    (1.038, 0.651), (1.058, 0.589), (1.079, 0.706), (1.102, 0.612), (1.128, 0.541),
    (1.155, 0.661), (1.186, 0.583),
    (0.792, 0.362), (0.808, 0.451), (0.823, 0.318), (0.839, 0.417), (0.856, 0.488),
    (0.873, 0.349), (0.891, 0.436), (0.911, 0.387), (0.934, 0.472), (0.958, 0.331),
    (0.985, 0.418), (1.016, 0.463), (1.053, 0.392), (1.092, 0.478),
    (1.262, 1.182), (1.287, 1.093), (1.314, 1.221), (1.342, 1.127), (1.368, 1.046),
    (1.394, 1.168), (1.421, 1.211), (1.447, 1.087), (1.476, 1.152), (1.503, 1.226),
    (1.531, 1.093), (1.562, 1.167), (1.593, 1.204), (1.624, 1.141), (1.273, 0.963),
    (1.301, 0.872), (1.329, 0.994), (1.357, 0.816), (1.386, 0.932), (1.414, 0.861),
    (1.443, 0.977), (1.472, 0.904), (1.502, 0.846), (1.538, 0.958), (1.574, 0.883),
    (1.292, 0.732), (1.326, 0.684), (1.358, 0.771), (1.391, 0.658), (1.428, 0.742),
    (1.463, 0.689), (1.247, 0.602), (1.283, 0.568), (1.318, 0.641), (1.236, 0.786),
    (1.249, 0.917), (1.551, 1.021), (1.604, 1.052), (1.487, 1.018), (1.417, 1.007),
]

tail_band = [
    (1.46, 2.38), (1.48, 2.30), (1.49, 2.34), (1.50, 2.26), (1.51, 2.20), (1.52, 2.28),
    (1.52, 2.12), (1.53, 2.17), (1.54, 2.02), (1.55, 2.08), (1.55, 1.94), (1.56, 1.99),
    (1.57, 1.88), (1.58, 1.93), (1.58, 1.83), (1.59, 1.74), (1.60, 1.79), (1.61, 1.70),
    (1.62, 1.64), (1.62, 1.75), (1.63, 1.62), (1.64, 1.58), (1.64, 1.67), (1.65, 1.55),
    (1.66, 1.50), (1.66, 1.61), (1.67, 1.47), (1.68, 1.52), (1.69, 1.44), (1.70, 1.48),
    (1.70, 1.40), (1.71, 1.36), (1.72, 1.43), (1.73, 1.34), (1.74, 1.31), (1.75, 1.36),
    (1.76, 1.30), (1.77, 1.28), (1.78, 1.30), (1.79, 1.27), (1.81, 1.28), (1.83, 1.26),
    (1.57, 2.00), (1.59, 1.86), (1.61, 1.82), (1.63, 1.71), (1.65, 1.63), (1.67, 1.57),
    (1.69, 1.51), (1.71, 1.45), (1.53, 2.22), (1.54, 2.14), (1.56, 2.06), (1.60, 1.88),
    (1.62, 1.58), (1.66, 1.44), (1.68, 1.41), (1.72, 1.33), (1.74, 1.29), (1.76, 1.26),
    (1.418, 2.564), (1.447, 2.510), (1.462, 2.592),
    (1.421, 2.473), (1.443, 2.419), (1.458, 2.503), (1.476, 2.430), (1.491, 2.478),
    (1.432, 2.396), (1.451, 2.343), (1.467, 2.423), (1.484, 2.357), (1.502, 2.400),
    (1.515, 2.361), (1.443, 2.316), (1.462, 2.263), (1.478, 2.344), (1.493, 2.278),
    (1.509, 2.328), (1.526, 2.260), (1.457, 2.236), (1.474, 2.183), (1.491, 2.263),
    (1.506, 2.196), (1.521, 2.249), (1.538, 2.180), (1.468, 2.158), (1.484, 2.103),
    (1.499, 2.184), (1.514, 2.117), (1.529, 2.171), (1.545, 2.103), (1.557, 2.173),
    (1.481, 2.078), (1.497, 2.024), (1.512, 2.102), (1.527, 2.038), (1.541, 2.091),
    (1.556, 2.021), (1.569, 2.095), (1.494, 1.998), (1.509, 1.944), (1.524, 2.022),
    (1.538, 1.959), (1.552, 2.011), (1.566, 1.941), (1.581, 2.015), (1.508, 1.918),
    (1.523, 1.864), (1.537, 1.942), (1.551, 1.878), (1.565, 1.931), (1.579, 1.861),
    (1.594, 1.934), (1.526, 1.838), (1.541, 1.784), (1.556, 1.862), (1.571, 1.798),
    (1.585, 1.851), (1.599, 1.781), (1.613, 1.855), (1.547, 1.758), (1.562, 1.704),
    (1.577, 1.782), (1.591, 1.718), (1.605, 1.771), (1.619, 1.701), (1.634, 1.774),
    (1.566, 1.678), (1.581, 1.624), (1.596, 1.702), (1.611, 1.638), (1.625, 1.691),
    (1.639, 1.621), (1.654, 1.694), (1.591, 1.598), (1.606, 1.544), (1.621, 1.622),
    (1.636, 1.558), (1.651, 1.611), (1.665, 1.541), (1.679, 1.614), (1.617, 1.528),
    (1.632, 1.474), (1.647, 1.552), (1.662, 1.488), (1.676, 1.541), (1.691, 1.471),
    (1.705, 1.544), (1.642, 1.458), (1.657, 1.404), (1.672, 1.482), (1.687, 1.418),
    (1.701, 1.471), (1.716, 1.401), (1.731, 1.474), (1.668, 1.398), (1.683, 1.352),
    (1.698, 1.413), (1.713, 1.358), (1.727, 1.401), (1.742, 1.347), (1.757, 1.404),
    (1.697, 1.348), (1.712, 1.302), (1.727, 1.357), (1.742, 1.309), (1.756, 1.351),
    (1.771, 1.298), (1.786, 1.344), (1.728, 1.306), (1.744, 1.272), (1.759, 1.311),
    (1.774, 1.269), (1.789, 1.302), (1.804, 1.272), (1.821, 1.296), (1.768, 1.262),
    (1.786, 1.256), (1.803, 1.265), (1.821, 1.254), (1.842, 1.261), (1.862, 1.252),
]

flat_r = [1.45, 2.40]
flat_rho = [1.235, 1.235]

labels_c = {"left": ("pe\u2212avsl", 0.205, 4.49), "right": ("(c)", 2.247, 4.49)}
labels_d = {"left": ("pe\u2212avsl\u2212ac", 0.207, 4.49), "right": ("(d)", 2.258, 4.49)}

H = 787
W_C, XMAX_C = 802, 2.40
W_D, XMAX_D = 781, 2.345
L_MAJ, L_MIN = 15, 8


def scales(xmax):
    return (alt.Scale(domain=[0, xmax], nice=False, zero=False),
            alt.Scale(domain=[0, 5], nice=False, zero=False))


X_AXIS = alt.Axis(values=X_LABELS, format="d", ticks=False, domain=False, grid=False,
                  labelFont=FONT, labelFontSize=54, labelColor=INK, labelFlush=False,
                  labelBaseline="alphabetic", labelPadding=83,
                  title="r\u2002(kpc)", titleFont=FONT, titleFontSize=60,
                  titleFontWeight="normal", titleColor=INK,
                  titleBaseline="alphabetic", titleY=157)

Y_AXIS = alt.Axis(labels=False, ticks=False, domain=False, grid=False,
                  title="\u03c1 (10\u2077 M\u2299 kpc\u207b\u00b3)",
                  titleFont=FONT, titleFontSize=54, titleFontWeight="normal",
                  titleColor=INK, titleAngle=270, titleBaseline="alphabetic",
                  titleAlign="center", titleX=-95, titleY=402)


def enc_x(xs):
    return alt.X("r:Q", scale=xs, axis=X_AXIS)


def enc_y(ys, show_y):
    return alt.Y("rho:Q", scale=ys, axis=Y_AXIS if show_y else None)


def tick_layers(width, xmax, xs, ys, show_y):
    out = []
    xmaj = pd.DataFrame({"r": [v for v in X_MAJOR if v <= xmax]})
    xmin = pd.DataFrame({"r": [v for v in X_MINOR if v <= xmax]})
    ymaj = pd.DataFrame({"rho": Y_MAJOR})
    ymin = pd.DataFrame({"rho": Y_MINOR})
    for df, L in ((xmaj, L_MAJ), (xmin, L_MIN)):
        out.append(alt.Chart(df).mark_rule(color=INK, strokeWidth=2).encode(
            x=enc_x(xs), y=alt.value(H), y2=alt.value(H - L)))
        out.append(alt.Chart(df).mark_rule(color=INK, strokeWidth=2).encode(
            x=enc_x(xs), y=alt.value(0), y2=alt.value(L)))
    for df, L in ((ymaj, L_MAJ), (ymin, L_MIN)):
        out.append(alt.Chart(df).mark_rule(color=INK, strokeWidth=2).encode(
            y=enc_y(ys, show_y), x=alt.value(0), x2=alt.value(L)))
        out.append(alt.Chart(df).mark_rule(color=INK, strokeWidth=2).encode(
            y=enc_y(ys, show_y), x=alt.value(width), x2=alt.value(width - L)))
    return out


def panel_text(labels, xs, ys, show_y):
    out = []
    for align, (txt, r, rho) in labels.items():
        df = pd.DataFrame({"label": [txt], "r": [r], "rho": [rho]})
        out.append(alt.Chart(df).mark_text(align=align, baseline="alphabetic", font=FONT,
                                           fontSize=57, color=INK).encode(
            x=enc_x(xs), y=enc_y(ys, show_y), text="label:N"))
    return out


def y_label_layers(ys):
    out = []
    for vals, base in ((Y_LABELS_MID, "middle"), (Y_LABEL_BOTTOM, "alphabetic"),
                       (Y_LABEL_TOP, "top")):
        df = pd.DataFrame({"rho": vals})
        out.append(alt.Chart(df).mark_text(align="right", baseline=base, font=FONT,
                                           fontSize=50, color=INK).encode(
            x=alt.value(-15), y=enc_y(ys, True),
            text=alt.Text("rho:Q", format="d")))
    return out


green_df = pd.DataFrame({"r": green_r, "rho": green_rho, "i": list(range(len(green_r)))})

# ---------- panel (c) ----------
xs_c, ys_c = scales(XMAX_C)
cloud_df = pd.DataFrame(cloud_top + cloud_mid + core_extra + core_dense + cloud_low
                        + lobe_extra + tail_band, columns=["r", "rho"])
flat_df = pd.DataFrame({"r": flat_r, "rho": flat_rho})

scatter_c = alt.Chart(cloud_df).mark_square(size=24, color="black", opacity=1,
                                            clip=True).encode(
    x=enc_x(xs_c), y=enc_y(ys_c, True))
flat_c = alt.Chart(flat_df).mark_line(color="black", strokeWidth=4).encode(
    x=enc_x(xs_c), y=enc_y(ys_c, True))
green_c = alt.Chart(green_df).mark_line(color=GREEN, strokeWidth=3.5, clip=True).encode(
    x=enc_x(xs_c), y=enc_y(ys_c, True), order="i:Q")

panel_c = alt.layer(scatter_c, flat_c, green_c,
                    *tick_layers(W_C, XMAX_C, xs_c, ys_c, True),
                    *panel_text(labels_c, xs_c, ys_c, True),
                    *y_label_layers(ys_c)).properties(width=W_C, height=H)

# ---------- panel (d) ----------
xs_d, ys_d = scales(XMAX_D)
ac_df = pd.DataFrame({"r": ac_r, "rho": ac_rho})
dots_df = pd.DataFrame(ac_dots, columns=["r", "rho"])

black_d = alt.Chart(ac_df).mark_line(color="black", strokeWidth=7, clip=True,
                                     strokeJoin="round", strokeCap="round").encode(
    x=enc_x(xs_d), y=enc_y(ys_d, False))
dots_d = alt.Chart(dots_df).mark_square(size=6, color="black", opacity=1).encode(
    x=enc_x(xs_d), y=enc_y(ys_d, False))
green_d = alt.Chart(green_df).mark_line(color=GREEN, strokeWidth=2.2, clip=True).encode(
    x=enc_x(xs_d), y=enc_y(ys_d, False), order="i:Q")

panel_d = alt.layer(black_d, dots_d, green_d,
                    *tick_layers(W_D, XMAX_D, xs_d, ys_d, False),
                    *panel_text(labels_d, xs_d, ys_d, False)).properties(width=W_D, height=H)

chart = alt.hconcat(panel_c, panel_d, spacing=34, bounds="flush").properties(
    padding={"left": 49, "top": 37, "right": 0, "bottom": 0}
).configure_view(stroke=INK, strokeWidth=2.5)

chart.save("out.html", embed_options={"renderer": "svg", "actions": False})
